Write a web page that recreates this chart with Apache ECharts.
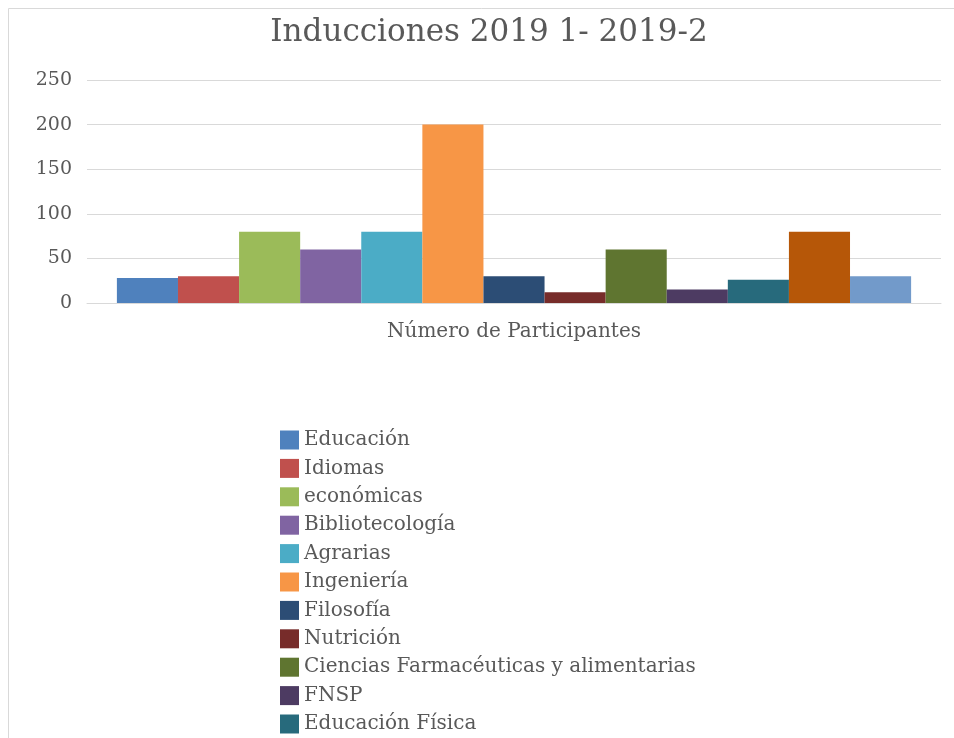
<!DOCTYPE html>
<html>
<head>
<meta charset="utf-8">
<script src="https://cdn.jsdelivr.net/npm/echarts@6/dist/echarts.min.js"></script>
<style>
  html, body { margin: 0; padding: 0; background: #fff; overflow: hidden; }
  /* el grafico original sigue por debajo del recorte, por eso el div es mas alto */
  #main { width: 954px; height: 900px; }
</style>
</head>
<body>
<div id="main"></div>
<script>
// datos del grafico
const categoria = ['Número de Participantes']
const facultades = ['Educación', 'Idiomas', 'económicas', 'Bibliotecología', 'Agrarias', 'Ingeniería',
  'Filosofía', 'Nutrición', 'Ciencias Farmacéuticas y alimentarias', 'FNSP', 'Educación Física',
  'Medicina', 'Enfermería']
const participantes = [28, 30, 80, 60, 80, 200, 30, 12, 60, 15, 26, 80, 30]
const colores = ['#4F81BD', '#C0504D', '#9BBB59', '#8064A2', '#4BACC6', '#F79646',
  '#2C4D75', '#772C2A', '#5F7530', '#4D3B62', '#276A7C', '#B65708', '#729ACA']
const yTicks = { min: 0, max: 250, interval: 50 }

const fuente = "'DejaVu Serif', 'Liberation Serif', serif"
const gris = '#595959'

let myChart = echarts.init(document.getElementById('main'))

let series = facultades.map((nombre, i) => ({
  name: nombre,
  type: 'bar',
  data: [participantes[i]],
  barGap: '0%',
  barCategoryGap: '7%',
  itemStyle: { color: colores[i] }
}))

let option = {
  animation: false,
  textStyle: { fontFamily: fuente },
  title: {
    text: 'Inducciones 2019 1- 2019-2',
    left: 484,
    top: 12,
    textAlign: 'center',
    textStyle: { fontFamily: fuente, fontSize: 31, fontWeight: 'normal', color: gris }
  },
  grid: { left: 87, right: 13, top: 80, bottom: 597 },
  xAxis: {
    type: 'category',
    data: categoria,
    axisLine: { show: true, lineStyle: { color: '#d9d9d9', width: 1 } },
    axisTick: { show: false },
    axisLabel: { color: gris, fontSize: 20, fontFamily: fuente, margin: 19 }
  },
  yAxis: {
    type: 'value',
    min: yTicks.min,
    max: yTicks.max,
    interval: yTicks.interval,
    axisLine: { show: false },
    axisTick: { show: false },
    axisLabel: { color: gris, fontSize: 19, fontFamily: fuente, margin: 15 },
    splitLine: { lineStyle: { color: '#d9d9d9', width: 1 } }
  },
  legend: {
    orient: 'vertical',
    left: 280,
    top: 430,
    padding: 0,
    data: facultades,
    itemWidth: 19,
    itemHeight: 19,
    itemGap: 8.4,
    icon: 'rect',
    textStyle: { color: gris, fontSize: 20, fontFamily: fuente, lineHeight: 19 }
  },
  graphic: [{
    type: 'rect',
    silent: true,
    z: -1,
    shape: { x: 8.5, y: 8.5, width: 1200, height: 1200 },
    style: { fill: 'none', stroke: '#d9d9d9', lineWidth: 1 }
  }],
  series: series
}
myChart.setOption(option)
</script>
</body>
</html>
